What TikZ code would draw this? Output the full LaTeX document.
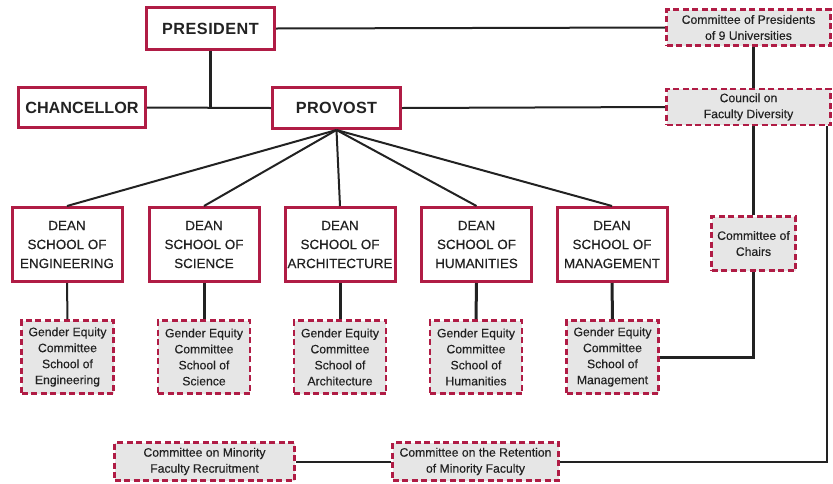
\documentclass[tikz,border=0pt]{standalone}
\usepackage{fontspec}
\setmainfont{Liberation Sans}
\definecolor{crim}{HTML}{B01C45}
\definecolor{boxgray}{HTML}{E6E6E6}
\definecolor{ink}{HTML}{222222}
\begin{document}
\begin{tikzpicture}[x=1pt,y=-1pt,
  top/.style={draw=crim,line width=3pt,fill=white,inner sep=0pt,
    font=\fontsize{16.2}{19}\selectfont\bfseries,text=ink},
  dean/.style={draw=crim,line width=3pt,fill=white,inner sep=0pt,align=center,
    minimum width=110pt,minimum height=74pt,
    font=\fontsize{13.4}{19}\selectfont\addfontfeature{FakeBold=0.4},text=ink},
  comm/.style={draw=crim,line width=2.6pt,dash pattern=on 6pt off 3.5pt,fill=boxgray,
    inner sep=0pt,align=center,font=\fontsize{12.2}{16}\selectfont\addfontfeature{FakeBold=0.3},text=ink},
  gec/.style={comm,minimum width=92pt,minimum height=73pt},
  conn/.style={draw=ink,line width=2pt},
  thick conn/.style={draw=ink,line width=3pt},
]
\useasboundingbox (0,0) rectangle (833,483);
% top level
\node[top,minimum width=128pt,minimum height=42pt] (pres) at (210.5,28.5) {\addfontfeature{LetterSpace=3}PRESIDENT};
\node[top,minimum width=127pt,minimum height=40pt] (chanc) at (82,107.5) {CHANCELLOR};
\node[top,minimum width=128pt,minimum height=41pt] (prov) at (336.5,108) {\addfontfeature{LetterSpace=2}PROVOST};
\coordinate (j) at (210.5,107.5);
% right committees
\node[comm,minimum width=164pt,minimum height=36pt] (cop) at (748.5,27.5) {Committee of Presidents\\of 9 Universities};
\node[comm,minimum width=164pt,minimum height=36pt] (cfd) at (748.5,107) {Council on\\Faculty Diversity};
\node[comm,minimum width=84pt,minimum height=54pt] (chairs) at (753.5,243.5) {Committee of\\Chairs};
% deans
\node[dean] (dEng) at (67,244.5) {DEAN\\SCHOOL OF\\ENGINEERING};
\node[dean] (dSci) at (204,244.5) {DEAN\\SCHOOL OF\\SCIENCE};
\node[dean] (dArc) at (340,244.5) {DEAN\\SCHOOL OF\\ARCHITECTURE};
\node[dean] (dHum) at (476.5,244.5) {DEAN\\SCHOOL OF\\HUMANITIES};
\node[dean] (dMan) at (612,244.5) {DEAN\\SCHOOL OF\\MANAGEMENT};
% gender equity committees
\node[gec] (gEng) at (67.5,357) {Gender Equity\\Committee\\School of\\Engineering};
\node[gec] (gSci) at (204,357) {Gender Equity\\Committee\\School of\\Science};
\node[gec] (gArc) at (340,357) {Gender Equity\\Committee\\School of\\Architecture};
\node[gec] (gHum) at (476,357) {Gender Equity\\Committee\\School of\\Humanities};
\node[gec] (gMan) at (612.5,357) {Gender Equity\\Committee\\School of\\Management};
% bottom committees
\node[comm,minimum width=180pt,minimum height=38pt] (rec) at (204.5,461.5) {Committee on Minority\\Faculty Recruitment};
\node[comm,minimum width=166pt,minimum height=38pt] (ret) at (475.5,461.5) {Committee on the Retention\\of Minority Faculty};
\coordinate (rc) at (827,461.5);
% connectors
\draw[thick conn] (pres.south) -- (j);
\draw[conn] (chanc.east) -- (prov.west);
\draw[conn] (pres.east) -- (cop.west);
\draw[conn] (prov.east) -- (cfd.west);
\draw[thick conn] (cop.south -| chairs.north) -- (cfd.north -| chairs.north);
\draw[thick conn] (cfd.south -| chairs.north) -- (chairs.north);
\draw[thick conn] (chairs.south) |- (gMan.east);
\draw[conn] (cfd.south -| rc) -- (rc) -- (ret.east);
\draw[conn] (ret.west) -- (rec.east);
\foreach \d in {dEng,dSci,dArc,dHum,dMan}{
  \draw[conn] (prov.south) -- (\d.north);
}
\draw[conn] (dEng.south) -- (gEng.north);
\draw[thick conn] (dSci.south) -- (gSci.north);
\draw[thick conn] (dArc.south) -- (gArc.north);
\draw[thick conn] (dHum.south) -- (gHum.north);
\draw[thick conn] (dMan.south) -- (gMan.north);
\end{tikzpicture}
\end{document}
